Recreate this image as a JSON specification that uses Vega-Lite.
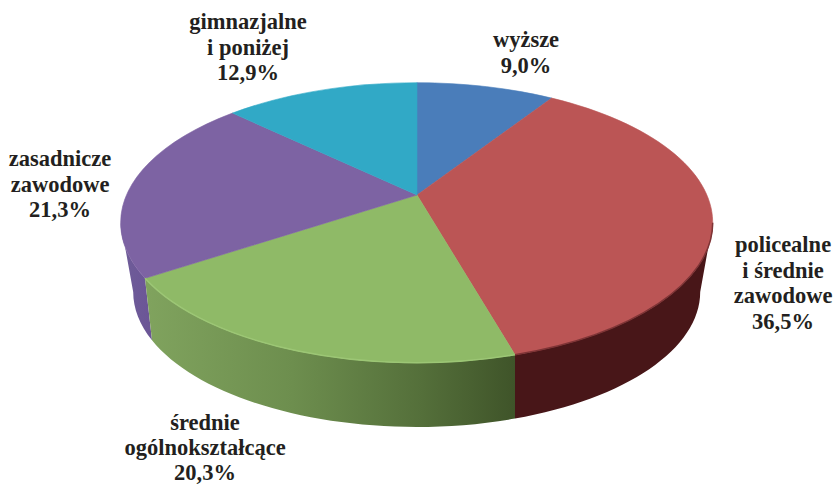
{
  "$schema": "https://vega.github.io/schema/vega-lite/v6.json",
  "width": 836,
  "height": 485,
  "autosize": "none",
  "padding": 0,
  "background": "white",
  "view": {"stroke": null},
  "config": {"text": {"font": "Liberation Serif"}},
  "data": {"values": [
    {"category": "wyższe", "value": 9.0, "label": "wyższe\n9,0%"},
    {"category": "policealne i średnie zawodowe", "value": 36.5, "label": "policealne\ni średnie\nzawodowe\n36,5%"},
    {"category": "średnie ogólnokształcące", "value": 20.3, "label": "średnie\nogólnokształcące\n20,3%"},
    {"category": "zasadnicze zawodowe", "value": 21.3, "label": "zasadnicze\nzawodowe\n21,3%"},
    {"category": "gimnazjalne i poniżej", "value": 12.9, "label": "gimnazjalne\ni poniżej\n12,9%"}
  ]},
  "layer": [
    {
      "transform": [{"filter": "datum.category === 'zasadnicze zawodowe'"}],
      "mark": {"type": "point", "filled": true, "opacity": 1, "size": 4, "strokeWidth": 0,
        "shape": "M-297.3 -19.8 A296 140 0 0 0 -273 35.8 L-266 97.85 A283.5 135 0 0 1 -284.8 49.5 Z",
        "fill": {"gradient": "linear", "x1": 0, "y1": 0, "x2": 1, "y2": 0, "stops": [{"offset": 0, "color": "#6f5d99"}, {"offset": 1, "color": "#6b5596"}]}}
    },
    {
      "transform": [{"filter": "datum.category === 'policealne i średnie zawodowe'"}],
      "mark": {"type": "point", "filled": true, "opacity": 1, "size": 4, "strokeWidth": 0,
        "shape": "M97 112.25 A296 140 0 0 0 294.7 -19.8 L282.2 49.5 A283.5 135 0 0 1 97 176.1 Z",
        "fill": "#481618"}
    },
    {
      "transform": [{"filter": "datum.category === 'średnie ogólnokształcące'"}],
      "mark": {"type": "point", "filled": true, "opacity": 1, "size": 4, "strokeWidth": 0,
        "shape": "M-273 35.8 A296 140 0 0 0 97 112.25 L97 176.1 A283.5 135 0 0 1 -266 97.85 Z",
        "fill": {"gradient": "linear", "x1": 0, "y1": 0, "x2": 1, "y2": 0, "stops": [
          {"offset": 0, "color": "#80a35e"},
          {"offset": 0.4, "color": "#6d8e4e"},
          {"offset": 0.75, "color": "#546f3a"},
          {"offset": 1, "color": "#3f5429"}]}}
    },
    {
      "mark": {"type": "point", "filled": true, "opacity": 1, "size": 4, "strokeWidth": 0.6},
      "encoding": {
        "shape": {"field": "category", "type": "nominal", "legend": null, "scale": {
          "domain": ["wyższe", "policealne i średnie zawodowe", "średnie ogólnokształcące", "zasadnicze zawodowe", "gimnazjalne i poniżej"],
          "range": [
            "M-1 -47.5 L-1 -159.8 A296 140 0 0 1 133.7 -144.4 Z",
            "M-1 -47.5 L133.7 -144.4 A296 140 0 0 1 97 112.25 Z",
            "M-1 -47.5 L97 112.25 A296 140 0 0 1 -273 35.8 Z",
            "M-1 -47.5 L-273 35.8 A296 140 0 0 1 -185.5 -129.4 Z",
            "M-1 -47.5 L-185.5 -129.4 A296 140 0 0 1 -1 -159.8 Z"
          ]}},
        "fill": {"field": "category", "type": "nominal", "legend": null, "scale": {
          "domain": ["wyższe", "policealne i średnie zawodowe", "średnie ogólnokształcące", "zasadnicze zawodowe", "gimnazjalne i poniżej"],
          "range": ["#4a7dba", "#bb5555", "#8fba67", "#7d63a3", "#31a9c6"]}},
        "stroke": {"field": "category", "type": "nominal", "legend": null, "scale": {
          "domain": ["wyższe", "policealne i średnie zawodowe", "średnie ogólnokształcące", "zasadnicze zawodowe", "gimnazjalne i poniżej"],
          "range": ["#4a7dba", "#bb5555", "#8fba67", "#7d63a3", "#31a9c6"]}}
      }
    },
    {
      "transform": [{"filter": "datum.category === 'średnie ogólnokształcące'"}],
      "mark": {"type": "point", "filled": false, "opacity": 1, "size": 4, "strokeWidth": 1.5, "stroke": "#9cc675", "fillOpacity": 0,
        "shape": "M-273 35.8 A296 140 0 0 0 97 112.25"}
    },
    {
      "transform": [{"filter": "datum.category === 'policealne i średnie zawodowe'"}],
      "mark": {"type": "point", "filled": false, "opacity": 1, "size": 4, "strokeWidth": 1.5, "stroke": "#7e3436", "fillOpacity": 0,
        "shape": "M97 112.25 A296 140 0 0 0 294.7 -19.8"}
    },
    {
      "transform": [{"filter": "datum.category === 'gimnazjalne i poniżej'"}],
      "mark": {"type": "text", "fontWeight": "bold", "fontSize": 22.5, "lineHeight": 25.5, "lineBreak": "\n", "align": "center", "baseline": "middle", "color": "#231f20", "dx": -170, "dy": -220.5},
      "encoding": {"text": {"field": "label", "type": "nominal"}}
    },
    {
      "transform": [{"filter": "datum.category === 'wyższe'"}],
      "mark": {"type": "text", "fontWeight": "bold", "fontSize": 22.5, "lineHeight": 25.5, "lineBreak": "\n", "align": "center", "baseline": "middle", "color": "#231f20", "dx": 108, "dy": -202.5},
      "encoding": {"text": {"field": "label", "type": "nominal"}}
    },
    {
      "transform": [{"filter": "datum.category === 'zasadnicze zawodowe'"}],
      "mark": {"type": "text", "fontWeight": "bold", "fontSize": 22.5, "lineHeight": 25.5, "lineBreak": "\n", "align": "center", "baseline": "middle", "color": "#231f20", "dx": -358, "dy": -83.5},
      "encoding": {"text": {"field": "label", "type": "nominal"}}
    },
    {
      "transform": [{"filter": "datum.category === 'policealne i średnie zawodowe'"}],
      "mark": {"type": "text", "fontWeight": "bold", "fontSize": 22.5, "lineHeight": 25.5, "lineBreak": "\n", "align": "center", "baseline": "middle", "color": "#231f20", "dx": 365, "dy": 2.5},
      "encoding": {"text": {"field": "label", "type": "nominal"}}
    },
    {
      "transform": [{"filter": "datum.category === 'średnie ogólnokształcące'"}],
      "mark": {"type": "text", "fontWeight": "bold", "fontSize": 22.5, "lineHeight": 25, "lineBreak": "\n", "align": "center", "baseline": "middle", "color": "#231f20", "dx": -213, "dy": 180.5},
      "encoding": {"text": {"field": "label", "type": "nominal"}}
    }
  ]
}
